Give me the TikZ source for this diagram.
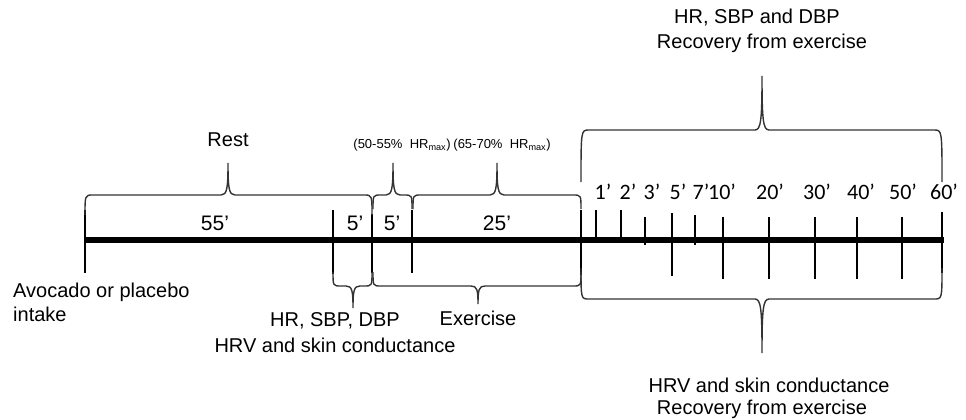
\documentclass[tikz,border=0pt]{standalone}
\usepackage{fontspec}
\setmainfont{Liberation Sans}
\newfontfamily\calib{Carlito}
\newcommand\curlybr[6]{% x1 x2 xm yline yend ytip
  \draw[brc] (#1,#5) .. controls (#1,#4) and (#1,#4) .. ({#1+8},#4) -- ({#3-7},#4)
    .. controls ({#3-1},#4) and (#3,{#4+0.2*(#6-#4)}) .. (#3,#6)
    .. controls (#3,{#4+0.2*(#6-#4)}) and ({#3+1},#4) .. ({#3+7},#4) -- ({#2-8},#4)
    .. controls (#2,#4) and (#2,#4) .. (#2,#5);}
\begin{document}
\begin{tikzpicture}[x=1pt,y=-1pt,
  lbl/.style={font=\fontsize{20}{22}\selectfont, inner sep=0pt},
  num/.style={font=\fontsize{21}{23}\selectfont, inner sep=0pt},
  tnum/.style={font=\calib\fontsize{22}{24}\selectfont, inner sep=0pt},
  small/.style={font=\fontsize{13}{15}\selectfont, inner sep=0pt},
  brc/.style={draw=black!80, line width=1.4pt},
  tick/.style={draw=black, line width=2pt},
  bar/.style={draw=black, line width=6pt}]
\useasboundingbox (0,0) rectangle (966,420);
% main bar
\draw[bar] (84,240) -- (944,240);
% ticks
\foreach \x/\a/\b in {85/210/273, 333/210/274, 372/214/273, 412/210/273, 581/210/275,
  596/210/240, 621/210/240, 645/217/245, 672/213/276, 695/215/245,
  723/217/279, 769/217/279, 815/217/279, 857/217/279, 902/217/279, 942/212/273}
  \draw[tick] (\x,\a) -- (\x,\b);
% top braces
\curlybr{85}{372}{228}{195}{215}{163}
\curlybr{373}{412}{393}{195}{209}{163}
\curlybr{413}{581}{497}{195}{209}{163}
\curlybr{581}{942}{762}{130}{182}{76}
% bottom braces
\curlybr{333}{372}{353}{286}{272}{308}
\curlybr{373}{581}{478}{286}{272}{304}
\curlybr{581}{942}{762}{299}{268}{353}
% labels
\node[lbl] (t1) at (757,18) {HR, SBP and DBP};
\node[lbl] (t2) at (762,43) {Recovery from exercise};
\node[lbl] (rest) at (228,140) {Rest};
\node[small] (p1) at (402,145) {(50-55\%\ \ HR\textsubscript{max})};
\node[small] (p2) at (502,145) {(65-70\%\ \ HR\textsubscript{max})};
\node[num] (n55) at (215,223) {55’};
\node[num] (n5a) at (355,223) {5’};
\node[num] (n5b) at (392,223) {5’};
\node[num] (n25) at (497,223) {25’};
\foreach \x/\t in {603/1, 628/2, 652/3, 678/5, 701/7, 722/10, 770/20, 817/30, 861/40, 903/50, 944/60}
  \node[tnum] at (\x,192) {\t’};
\node[lbl, anchor=west] (av) at (13,292) {Avocado or placebo};
\node[lbl, anchor=west] (in) at (13,314) {intake};
\node[lbl] (b1) at (335,321) {HR, SBP, DBP};
\node[lbl] (b2) at (335,345) {HRV and skin conductance};
\node[lbl] (ex) at (478,318) {Exercise};
\node[lbl] (r1) at (769,385) {HRV and skin conductance};
\node[lbl] (r2) at (762,409) {Recovery from exercise};
\end{tikzpicture}
\end{document}
